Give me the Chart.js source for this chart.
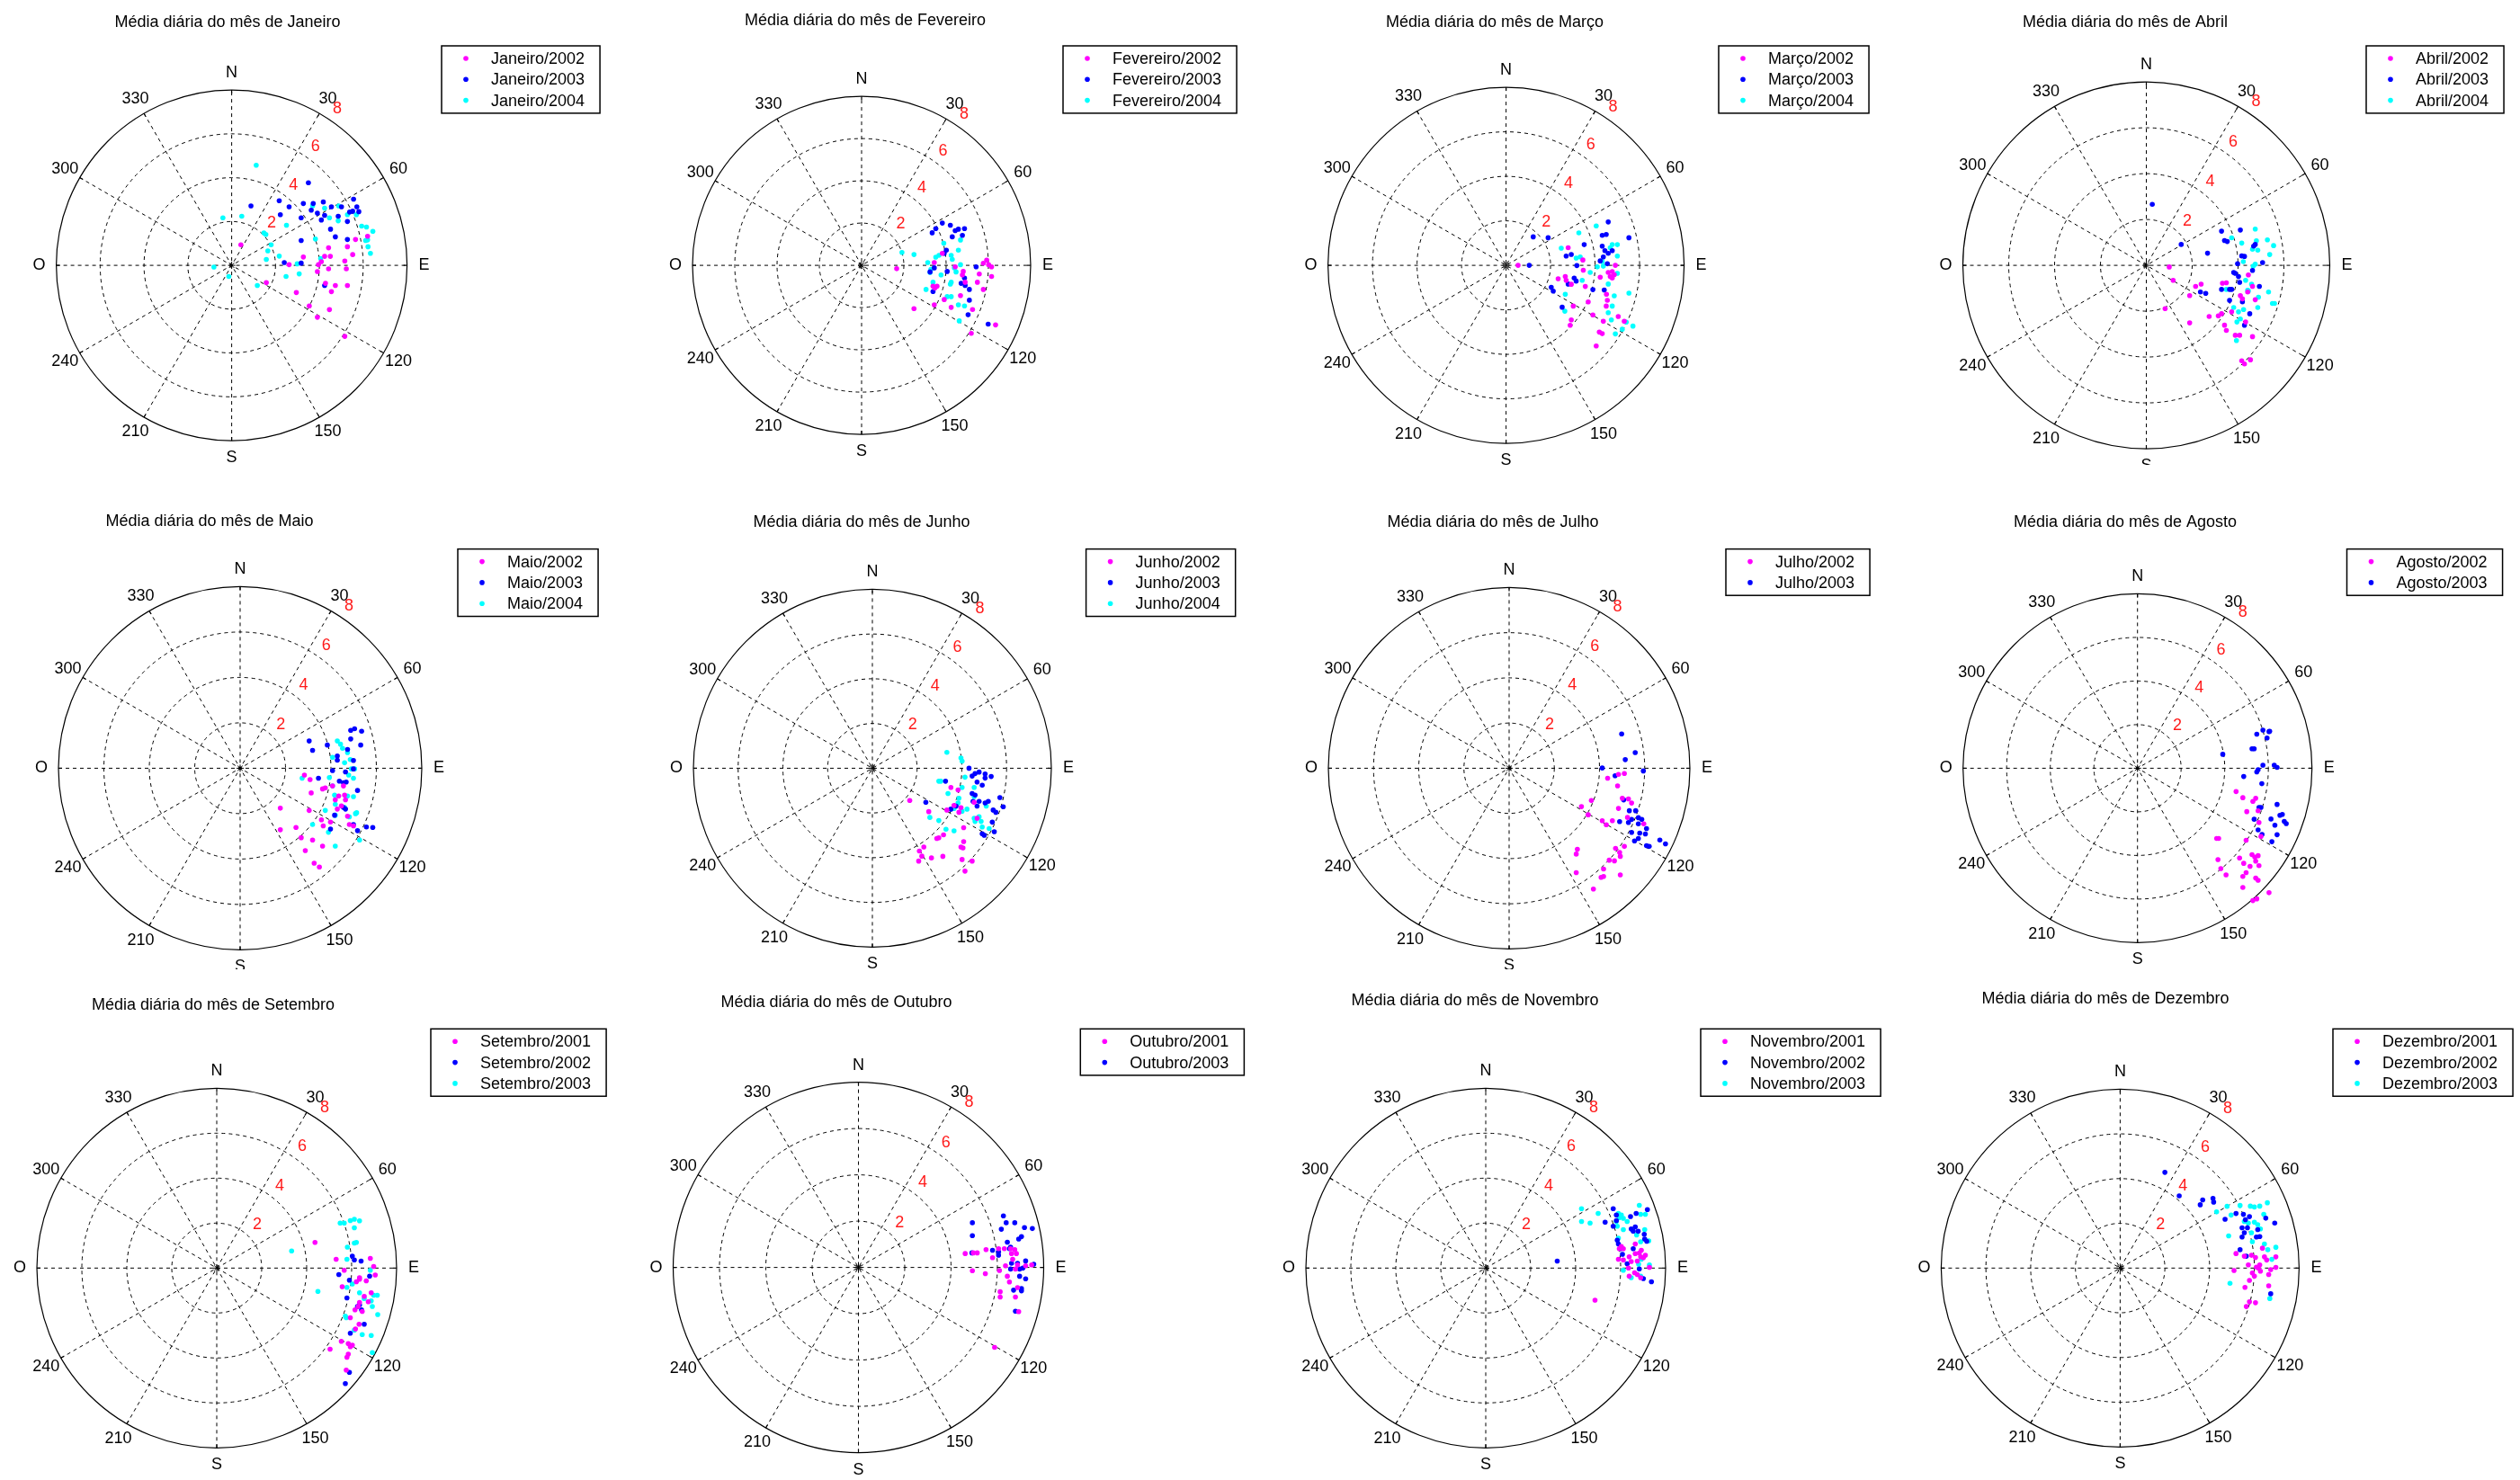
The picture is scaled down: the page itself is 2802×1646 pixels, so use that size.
<!DOCTYPE html>
<html>
<head>
<meta charset="utf-8">
<script src="https://cdn.jsdelivr.net/npm/chart.js@4"></script>
<style>
  body { margin: 0; background: #fff; width: 2802px; height: 1646px; overflow: hidden; position: relative; }
  canvas { position: absolute; }
</style>
</head>
<body>
<script>
// daily mean wind, [east, north] components (speed units)
const janeiro2002 = [[0.42,0.94],[2.62,0.03],[3.27,0.38],[4.24,0.41],[4.50,0.41],[4.09,0.17],[3.96,0.03],[3.91,-0.28],[4.42,-0.16],[4.42,0.80],[5.16,0.20],[5.28,0.85],[5.65,1.18],[5.52,0.49],[6.20,1.33],[5.23,-0.16],[4.28,-0.82],[4.73,-0.92],[5.28,-0.92],[4.55,-1.20],[2.95,-1.24],[1.58,-0.79],[3.54,-1.85],[4.46,-2.02],[3.91,-2.37],[5.16,-3.24]];
const janeiro2003 = [[0.88,2.71],[2.17,2.95],[2.62,2.67],[2.22,2.31],[3.50,3.77],[3.27,2.82],[3.72,2.82],[4.18,2.89],[3.63,2.52],[3.91,2.38],[4.09,2.07],[4.24,2.28],[3.17,2.17],[4.55,2.67],[5.01,2.67],[4.86,2.24],[5.56,3.02],[5.71,2.67],[5.38,2.43],[5.80,2.45],[5.52,2.47],[5.28,2.00],[4.51,1.65],[4.73,1.30],[5.28,1.18],[3.17,1.13],[2.40,0.13],[3.17,0.10],[4.24,-0.92]];
const janeiro2004 = [[1.12,4.57],[-0.40,2.17],[0.46,2.24],[2.50,1.83],[1.47,1.48],[1.56,1.41],[1.80,0.94],[1.65,0.66],[1.58,0.27],[2.17,0.42],[2.99,0.07],[3.08,-0.39],[2.48,-0.51],[1.17,-0.92],[-0.81,-0.08],[-0.13,-0.51],[3.82,1.20],[4.06,0.31],[4.24,2.61],[4.46,2.17],[3.69,2.71],[4.88,2.71],[5.28,2.31],[4.86,2.03],[5.93,1.79],[6.15,1.75],[6.44,1.55],[6.20,1.16],[6.11,1.13],[6.22,0.85],[6.33,0.55],[5.69,2.31]];

const fevereiro2002 = [[1.66,-0.16],[2.48,-2.05],[3.44,0.13],[3.47,-1.07],[3.57,-0.99],[3.38,-0.99],[3.91,-1.62],[3.44,-1.87],[4.24,-1.99],[4.43,-0.07],[4.68,-1.43],[4.81,-0.29],[4.77,-0.45],[4.90,-0.80],[5.57,-0.41],[5.76,0.10],[5.92,0.25],[6.01,0.03],[6.15,-0.07],[6.15,-0.53],[5.76,-1.14],[5.48,-0.80],[5.25,-2.09],[5.19,-3.22],[6.34,-2.82],[3.82,0.57]];
const fevereiro2003 = [[3.34,1.54],[3.51,1.74],[3.82,2.00],[4.20,1.90],[4.29,1.35],[4.43,1.64],[4.58,1.71],[4.87,1.74],[4.77,1.42],[4.01,0.72],[3.91,0.57],[3.44,-0.12],[3.24,-0.31],[4.05,-0.29],[4.87,-0.60],[4.71,-0.85],[4.90,-0.95],[5.10,-1.14],[5.10,-1.65],[5.04,-2.34],[5.42,-0.07],[5.99,-2.78],[3.38,-1.24]];
const fevereiro2004 = [[1.91,0.61],[2.48,0.51],[3.13,0.13],[3.28,-0.19],[3.24,-0.34],[3.51,0.39],[3.66,0.47],[3.76,-0.45],[3.89,1.05],[4.24,0.47],[4.29,0.28],[4.58,0.72],[4.68,1.20],[4.68,0.03],[4.47,-0.31],[4.24,-0.80],[4.20,-0.89],[3.05,-1.14],[3.38,-0.80],[4.05,-1.48],[4.24,-1.48],[4.58,-1.87],[4.87,-1.92],[4.62,-2.63],[4.39,-0.12]];

const marco2002 = [[0.54,0],[2.34,-0.60],[2.66,-0.50],[2.70,-0.67],[2.79,0.79],[2.93,-0.85],[3.45,0.24],[3.47,-0.22],[3.56,-0.95],[3.69,-1.64],[3.02,-1.83],[2.93,-2.45],[2.88,-2.69],[3.90,-2.23],[4.37,-2.51],[4.19,-3.00],[4.32,-3.07],[4.05,-3.62],[4.77,-0.57],[4.68,-0.50],[4.77,-0.28],[4.91,0],[4.86,-0.42],[4.51,-1.30],[4.55,-1.57],[4.50,-1.83],[5.04,-2.30],[5.31,-2.51],[4.23,-0.53],[4.59,-0.32]];
const marco2003 = [[1.22,1.28],[1.89,1.24],[1.04,0],[2.70,0.42],[2.93,0.49],[3.18,-0.01],[3.51,0.93],[3.06,-0.57],[3.15,-0.71],[2.79,-0.84],[2.03,-0.99],[2.12,-1.16],[2.52,-1.88],[3.90,-1.09],[4.41,-1.11],[4.59,1.95],[4.32,1.35],[4.50,1.39],[4.32,0.86],[4.44,0.66],[4.59,0.54],[4.77,0.66],[4.37,0.38],[4.55,0.07],[5.52,1.24],[4.23,0.20]];
const marco2004 = [[2.48,0.77],[3.27,1.46],[3.15,0.33],[4.05,1.77],[4.77,0.93],[5.00,0.93],[4.68,0.79],[5.00,0.42],[4.32,0.17],[4.37,-0.04],[4.10,-0.07],[3.78,-0.32],[3.42,-0.67],[5.00,-0.36],[4.59,-0.84],[4.77,-1.83],[4.86,-1.37],[4.59,-2.13],[4.73,-2.45],[4.91,-3.08],[5.22,-2.87],[5.40,-2.55],[5.70,-2.73],[5.52,-1.25],[2.66,-1.30],[2.64,-2.06],[3.33,0.38]];

const abril2002 = [[1.00,-0.07],[1.17,-0.65],[0.82,-1.89],[1.89,-1.32],[1.89,-2.51],[2.15,-0.92],[2.39,-0.82],[2.74,-2.23],[3.14,-2.20],[3.28,-2.11],[3.41,-2.61],[3.49,-2.84],[3.32,-0.78],[3.49,-0.76],[3.72,-2.03],[3.88,-3.05],[4.07,-3.05],[4.63,-3.11],[4.16,-4.16],[4.28,-4.30],[4.54,-4.12],[4.10,-1.32],[4.19,-1.46],[4.42,-1.16],[4.75,-1.50],[4.33,-2.47],[4.45,-0.42],[4.63,-0.92]];
const abril2003 = [[0.26,2.66],[1.52,0.91],[2.67,0.53],[3.28,1.49],[3.41,1.08],[3.53,1.04],[4.10,1.54],[4.16,0.41],[4.28,0.39],[3.98,0.07],[3.81,-0.31],[3.88,-0.35],[4.02,-0.49],[4.63,-0.22],[4.68,0.84],[4.75,0.91],[5.07,0.12],[3.63,-1.05],[3.72,-1.05],[4.07,-0.74],[3.28,-1.05],[2.36,-1.16],[2.59,-1.22],[3.63,-1.53],[4.19,-1.59],[4.51,-2.11],[4.28,-2.61],[4.93,-0.92]];
const abril2004 = [[3.72,1.20],[4.16,0.97],[4.75,1.58],[4.80,1.07],[4.63,0.70],[4.86,0.66],[5.28,1.11],[5.55,0.86],[5.38,0.47],[4.66,-0.04],[4.75,0.05],[4.23,0.16],[4.33,-0.65],[4.59,-0.82],[4.45,-1.12],[4.89,-1.39],[5.33,-1.16],[5.50,-1.66],[5.59,-1.66],[4.86,-1.84],[4.24,-1.93],[4.02,-2.03],[3.81,-1.84],[3.95,-2.47],[4.10,-2.34],[3.93,-3.28],[3.49,-1.05],[4.42,-1.09]];

const maio2002 = [[2.83,-0.30],[3.08,-0.50],[1.77,-1.76],[1.77,-2.71],[2.46,-2.61],[2.69,-3.06],[2.87,-3.63],[3.19,-3.16],[3.26,-4.18],[3.49,-4.35],[3.13,-1.09],[3.04,-1.86],[3.58,-2.27],[3.66,-2.54],[3.63,-3.43],[3.75,-0.87],[3.63,-0.91],[3.98,-2.37],[4.19,-1.39],[4.28,-1.80],[4.46,-1.66],[4.64,-1.39],[4.73,-2.11],[4.81,-2.48],[4.99,-2.54],[4.07,-0.78],[4.55,-0.78],[4.60,-1.18],[4.34,-1.22]];
const maio2003 = [[3.04,1.20],[3.19,0.79],[3.45,-0.44],[3.84,1.02],[4.28,0.54],[4.28,0.35],[4.07,-0.10],[4.37,-0.57],[4.55,-0.64],[4.67,-0.61],[4.99,0.34],[4.64,-0.16],[4.73,0.83],[4.87,1.29],[4.87,1.67],[5.04,1.74],[5.35,1.63],[5.31,1.02],[4.99,-0.03],[5.17,-0.98],[4.64,-1.80],[4.16,-2.07],[3.98,-2.68],[4.99,-2.48],[5.17,-2.75],[5.56,-2.59],[5.84,-2.61],[4.55,-1.73]];
const maio2004 = [[2.73,-0.44],[3.93,-0.41],[4.07,0.48],[4.07,-0.78],[4.16,-1.18],[4.28,1.20],[4.42,1.06],[4.51,0.88],[4.73,0.69],[4.85,0.38],[4.60,0.24],[4.78,-0.30],[4.99,-0.44],[5.04,-0.03],[4.90,-0.03],[4.73,-1.22],[4.99,-1.25],[4.60,-1.73],[4.19,-1.59],[3.75,-1.86],[3.19,-2.48],[3.89,-2.82],[4.19,-2.07],[4.81,-2.14],[5.08,-2.00],[5.13,-1.96],[5.26,-3.16],[4.19,-3.43]];

const junho2002 = [[1.67,-1.44],[2.52,-1.94],[2.30,-3.52],[2.10,-3.70],[2.21,-3.93],[2.07,-4.15],[2.64,-4.01],[3.15,-3.94],[2.88,-3.14],[2.97,-3.11],[3.18,-2.98],[3.51,-0.86],[3.83,-0.97],[3.33,-1.87],[3.87,-1.97],[3.96,-1.76],[4.08,-2.66],[3.96,-3.52],[4.05,-3.56],[4.08,-3.28],[4.01,-4.08],[4.46,-4.15],[4.14,-4.60],[4.55,-1.52],[4.68,-2.24],[3.65,-1.66]];
const junho2003 = [[2.39,-1.52],[3.27,-0.58],[3.51,-1.83],[3.74,-1.69],[4.32,0],[4.46,-0.35],[4.59,-0.24],[4.77,-0.17],[5.04,-0.26],[5.31,-0.37],[5.04,-0.44],[4.91,-0.76],[4.68,-0.62],[4.46,-1.13],[4.59,-1.20],[4.50,-1.48],[4.77,-1.48],[5.04,-1.55],[5.18,-1.48],[5.40,-1.87],[5.52,-1.97],[5.85,-1.72],[5.70,-1.31],[5.36,-2.41],[4.91,-2.93],[5.00,-3.00],[5.45,-2.84],[4.68,-1.69]];
const junho2004 = [[3.33,0.71],[3.96,0.46],[4.01,0.32],[4.14,-0.40],[2.97,-0.58],[3.06,-0.58],[3.38,-1.13],[4.01,-0.86],[4.55,-0.86],[4.55,-1.27],[3.87,-1.34],[3.83,-1.55],[3.72,-1.69],[3.65,-1.80],[4.01,-1.92],[4.23,-1.83],[4.55,-2.24],[4.77,-2.17],[4.86,-2.38],[4.59,-2.38],[4.91,-2.63],[5.22,-2.70],[3.65,-2.80],[3.29,-2.73],[2.97,-2.34],[2.57,-2.20],[5.09,-1.69]];

const julho2002 = [[4.36,-0.44],[4.84,-0.27],[5.10,-0.23],[4.80,-0.78],[5.01,-1.33],[5.28,-1.36],[5.42,-1.54],[4.84,-1.78],[5.24,-2.18],[3.20,-1.70],[3.64,-1.43],[3.50,-2.06],[4.12,-2.32],[4.30,-2.50],[4.57,-2.32],[5.96,-2.46],[4.71,-3.55],[4.89,-3.73],[5.10,-3.46],[4.92,-3.90],[4.43,-4.07],[4.66,-4.10],[4.18,-4.46],[3.02,-3.59],[2.97,-3.80],[2.97,-4.62],[4.07,-4.83],[4.18,-4.79],[4.92,-4.72],[3.73,-5.35]];
const julho2003 = [[4.98,1.52],[5.58,0.69],[5.14,0.38],[4.12,0.01],[5.94,-0.12],[4.69,-0.33],[5.07,-1.40],[5.32,-1.88],[5.60,-1.88],[5.72,-2.19],[5.87,-2.26],[4.89,-2.36],[5.42,-2.26],[5.72,-2.46],[5.42,-2.84],[5.78,-2.87],[5.72,-3.11],[6.03,-2.91],[6.08,-2.67],[5.55,-3.22],[6.08,-3.43],[6.20,-3.46],[6.67,-3.18],[6.92,-3.35],[5.28,-2.40]];

const agosto2002 = [[4.52,-1.07],[4.83,-1.35],[5.29,-1.52],[5.42,-1.38],[5.01,-1.99],[5.53,-1.95],[5.57,-2.49],[5.66,-3.13],[4.98,-3.30],[3.63,-3.22],[3.72,-3.22],[3.69,-4.19],[3.82,-4.60],[4.06,-4.89],[4.68,-4.12],[4.87,-4.36],[5.16,-4.50],[5.25,-3.96],[5.38,-4.08],[5.53,-4.01],[5.42,-4.26],[5.57,-4.47],[4.83,-4.96],[4.98,-4.79],[5.42,-5.04],[5.53,-5.14],[4.83,-5.47],[5.29,-6.07],[5.47,-5.99],[6.03,-5.71]];
const agosto2003 = [[3.91,0.64],[5.47,1.56],[5.75,1.75],[6.03,1.68],[5.94,1.39],[6.06,1.70],[5.25,0.89],[5.35,0.89],[5.75,0.14],[6.27,0.14],[6.40,0.04],[5.53,-0.07],[5.47,-0.17],[4.87,-0.38],[5.70,-0.71],[6.40,-1.66],[5.57,-1.80],[5.66,-1.80],[5.35,-2.34],[6.12,-2.33],[6.53,-2.16],[6.64,-2.12],[6.73,-2.44],[6.82,-2.54],[6.30,-2.61],[5.53,-2.83],[5.71,-3.04],[6.40,-3.05],[6.16,-3.37]];

const setembro2001 = [[4.37,1.14],[5.31,0.39],[5.67,-0.10],[5.58,-0.83],[6.21,-0.61],[6.35,-0.43],[6.35,-0.50],[6.65,-0.57],[6.83,0.43],[6.98,0.07],[7.05,-0.31],[6.87,-1.10],[6.56,-1.26],[6.74,-1.50],[6.35,-1.53],[6.29,-1.71],[6.15,-1.86],[5.94,-2.21],[6.17,-2.71],[5.54,-3.26],[5.04,-3.61],[5.85,-3.36],[5.94,-3.50],[6.03,-3.43],[5.85,-3.83],[5.79,-3.97],[5.76,-4.54],[6.33,-2.50],[6.47,-1.93]];
const setembro2002 = [[6.03,0.53],[6.12,0.36],[6.42,0.31],[5.43,-0.29],[5.90,-0.54],[6.80,-0.36],[5.79,-1.33],[6.35,-1.64],[6.26,-1.71],[6.56,-2.50],[5.94,-2.90],[5.90,-4.64],[5.72,-5.14],[6.44,-1.86]];
const setembro2003 = [[3.33,0.76],[4.50,-1.04],[5.49,2.00],[5.67,2.00],[5.94,2.11],[6.12,2.17],[6.35,2.10],[6.12,1.79],[6.12,1.11],[6.21,1.14],[5.81,0.93],[5.79,0.39],[6.03,-0.71],[5.79,-0.86],[6.35,-1.10],[6.83,-0.10],[6.98,-1.21],[7.14,-1.21],[6.87,-1.46],[6.92,-1.71],[7.16,-2.07],[5.72,-2.14],[6.12,-2.76],[6.47,-2.96],[6.87,-3.00],[6.92,-3.76],[6.56,-1.36],[5.76,-2.21]];

const outubro2001 = [[4.61,0.60],[4.96,0.63],[5.13,0.63],[5.51,0.77],[5.79,0.42],[6.05,0.81],[6.30,0.81],[6.57,0.81],[6.75,0.77],[6.82,0.60],[6.66,0.35],[6.35,0.07],[6.78,-0.07],[6.87,0.11],[7.22,0.07],[7.48,0.11],[4.92,-0.14],[5.48,-0.27],[6.09,-0.13],[6.43,-0.38],[6.52,-0.63],[6.87,-0.87],[6.12,-1.05],[6.12,-1.28],[6.78,-1.28],[6.92,-1.91],[5.88,-3.45],[6.61,0.60]];
const outubro2003 = [[4.92,1.93],[4.92,1.37],[4.90,0.63],[5.79,0.74],[6.05,0.67],[6.05,0.53],[6.17,1.65],[6.26,2.23],[6.38,1.93],[6.75,1.93],[6.43,1.09],[6.57,0.88],[6.92,1.23],[7.04,1.33],[7.17,1.72],[7.51,1.68],[6.61,0.18],[6.87,0.18],[7.22,0.28],[7.57,0.14],[6.96,-0.07],[7.10,-0.03],[6.57,-0.07],[6.96,-0.38],[7.22,-0.49],[6.70,-0.98],[7.04,-0.91],[7.04,-1.01],[6.78,-1.89],[6.52,0.81]];

const novembro2001 = [[5.90,0.39],[6.12,0.36],[6.38,0.50],[6.65,0.64],[6.74,0.31],[6.89,0.50],[7.01,0.46],[7.10,0.57],[6.92,0.79],[6.65,1.07],[6.12,0.86],[6.03,0.96],[6.35,0],[6.62,-0.21],[6.74,-0.29],[6.38,-0.36],[6.89,-0.43],[7.28,0.03],[4.86,-1.43],[6.83,0.67],[6.47,0.29],[5.94,0.86]];
const novembro2002 = [[3.18,0.31],[5.31,2.04],[5.67,2.64],[5.81,2.11],[5.67,1.86],[6.44,2.29],[6.69,2.43],[6.47,1.74],[6.56,1.64],[6.78,1.64],[7.05,1.50],[7.19,2.60],[7.07,1.29],[7.16,1.19],[5.85,1.24],[5.90,1.07],[5.99,0.86],[6.56,0.86],[6.08,0.61],[6.29,0.19],[6.83,-0.04],[7.01,-0.47],[7.37,-0.61],[5.81,2.36],[6.65,1.83]];
const novembro2003 = [[4.26,2.64],[4.26,2.07],[4.64,2.00],[5.00,2.43],[5.90,2.43],[6.03,2.36],[6.12,2.21],[5.81,2.07],[6.29,2.07],[6.83,2.79],[6.89,2.39],[7.10,2.39],[7.07,1.71],[6.12,1.71],[6.71,1.47],[5.90,1.33],[6.89,1.17],[5.85,1.86],[6.12,-0.10],[6.80,0.17],[7.28,0.14],[6.47,-0.43],[6.89,-0.36],[6.92,0.39],[7.25,1.21],[5.94,2.24]];

const dezembro2001 = [[5.18,0.65],[5.09,-0.11],[5.55,0.53],[5.73,0.14],[5.87,0.57],[6.05,0.47],[6.24,0.14],[6.36,0.89],[6.45,0.50],[6.55,0.36],[6.96,0.50],[6.96,0.03],[6.73,-0.07],[6.64,-0.29],[6.27,-0.14],[6.18,0],[6.00,-0.36],[5.91,-0.22],[5.78,-0.55],[5.58,-0.86],[6.64,-0.79],[5.78,-1.51],[6.05,-1.55],[5.64,-1.72],[6.09,0.04]];
const dezembro2002 = [[2.00,4.28],[2.64,3.23],[3.58,2.83],[3.69,3.05],[4.15,3.12],[4.18,2.95],[4.69,2.18],[5.18,2.44],[5.51,2.40],[5.78,2.30],[5.60,2.16],[5.45,1.80],[5.69,1.80],[5.55,1.58],[6.15,1.72],[6.09,1.39],[6.24,1.41],[5.45,1.39],[6.51,2.23],[6.91,2.01],[5.36,0.82],[5.64,0.53],[6.73,-1.15]];
const dezembro2003 = [[4.31,2.51],[4.78,2.76],[4.96,2.37],[5.36,2.80],[5.82,2.77],[6.00,2.73],[6.24,2.77],[6.58,2.92],[6.42,2.40],[6.00,2.05],[6.15,1.94],[6.27,1.75],[5.87,1.58],[5.91,1.18],[6.45,1.08],[6.60,0.82],[6.96,0.93],[6.78,0.39],[4.85,1.44],[4.91,-0.68],[6.69,-1.36],[5.55,2.08],[5.73,2.01]];

const monthNames = ['Janeiro','Fevereiro','Março','Abril','Maio','Junho','Julho','Agosto','Setembro','Outubro','Novembro','Dezembro'];
const monthYears = [
  [2002,2003,2004],[2002,2003,2004],[2002,2003,2004],[2002,2003,2004],
  [2002,2003,2004],[2002,2003,2004],[2002,2003],[2002,2003],
  [2001,2002,2003],[2001,2003],[2001,2002,2003],[2001,2002,2003]
];
const monthSeries = [
  [janeiro2002, janeiro2003, janeiro2004],
  [fevereiro2002, fevereiro2003, fevereiro2004],
  [marco2002, marco2003, marco2004],
  [abril2002, abril2003, abril2004],
  [maio2002, maio2003, maio2004],
  [junho2002, junho2003, junho2004],
  [julho2002, julho2003],
  [agosto2002, agosto2003],
  [setembro2001, setembro2002, setembro2003],
  [outubro2001, outubro2003],
  [novembro2001, novembro2002, novembro2003],
  [dezembro2001, dezembro2002, dezembro2003]
];
const ringTicks = [2, 4, 6, 8];
const angleLabels = ['N','30','60','E','120','150','S','210','240','O','300','330'];

// look
const seriesColors = ['#ff00ff', '#0000ff', '#00ffff'];
const FONT = '18px "Liberation Sans", Arial, sans-serif';

// where each panel sits on the page
const panelLayout = [
  {cx: 257.6, cy: 295.1, r: 195, tx: 253, ty: 25, lx: 491, ly: 51, bottom: 540},
  {cx: 958.0, cy: 295.1, r: 188, tx: 962, ty: 23, lx: 1182, ly: 51, bottom: 540},
  {cx: 1674.6, cy: 295.1, r: 198, tx: 1662, ty: 25, lx: 1911, ly: 51, bottom: 540},
  {cx: 2386.5, cy: 295.1, r: 204, tx: 2363, ty: 25, lx: 2631, ly: 51, bottom: 517},
  {cx: 267.0, cy: 854.4, r: 202, tx: 233, ty: 580, lx: 509, ly: 610.6, bottom: 1078},
  {cx: 970.0, cy: 854.4, r: 199, tx: 958, ty: 581, lx: 1207.6, ly: 610.6, bottom: 1078},
  {cx: 1678.0, cy: 854.4, r: 201, tx: 1660, ty: 581, lx: 1919, ly: 610.6, bottom: 1078},
  {cx: 2376.7, cy: 854.4, r: 194, tx: 2363, ty: 581, lx: 2609.5, ly: 610.6, bottom: 1078},
  {cx: 241.0, cy: 1410.3, r: 200, tx: 237, ty: 1118, lx: 479, ly: 1144.3, bottom: 1646},
  {cx: 954.5, cy: 1409.6, r: 206, tx: 930, ty: 1115, lx: 1201.3, ly: 1144.3, bottom: 1646},
  {cx: 1652.0, cy: 1410.3, r: 200, tx: 1640, ty: 1113, lx: 1891, ly: 1144.3, bottom: 1646},
  {cx: 2357.4, cy: 1410.3, r: 199, tx: 2341, ty: 1111, lx: 2594, ly: 1144.3, bottom: 1646}
];

// compass-style polar grid, drawn from the chart's own x/y scales
const polarGrid = {
  id: 'polarGrid',
  beforeDatasetsDraw(chart) {
    const {ctx, scales: {x, y}} = chart;
    const cx = x.getPixelForValue(0), cy = y.getPixelForValue(0);
    const maxR = ringTicks[ringTicks.length - 1];
    const rx = x.getPixelForValue(maxR) - cx, ry = cy - y.getPixelForValue(maxR);
    ctx.save();
    ctx.strokeStyle = '#000';
    ctx.lineWidth = 1;
    ctx.setLineDash([4, 4]);
    for (let a = 0; a < 180; a += 30) {
      const t = a * Math.PI / 180;
      ctx.beginPath();
      ctx.moveTo(cx - Math.sin(t) * rx, cy + Math.cos(t) * ry);
      ctx.lineTo(cx + Math.sin(t) * rx, cy - Math.cos(t) * ry);
      ctx.stroke();
    }
    ringTicks.slice(0, -1).forEach(v => {
      ctx.beginPath();
      ctx.ellipse(cx, cy, x.getPixelForValue(v) - cx, cy - y.getPixelForValue(v), 0, 0, Math.PI * 2);
      ctx.stroke();
    });
    ctx.setLineDash([]);
    ctx.lineWidth = 1.2;
    ctx.beginPath();
    ctx.ellipse(cx, cy, rx, ry, 0, 0, Math.PI * 2);
    ctx.stroke();
    // small ticks on the rim
    for (let a = 0; a < 360; a += 30) {
      const t = a * Math.PI / 180;
      ctx.beginPath();
      ctx.moveTo(cx + Math.sin(t) * (rx - 4), cy - Math.cos(t) * (ry - 4));
      ctx.lineTo(cx + Math.sin(t) * rx, cy - Math.cos(t) * ry);
      ctx.stroke();
    }
    // calm marker at the origin
    ctx.lineWidth = 1;
    for (let a = 0; a < 180; a += 45) {
      const t = a * Math.PI / 180;
      ctx.beginPath();
      ctx.moveTo(cx - Math.cos(t) * 4, cy - Math.sin(t) * 4);
      ctx.lineTo(cx + Math.cos(t) * 4, cy + Math.sin(t) * 4);
      ctx.stroke();
    }
    // direction labels
    ctx.font = FONT;
    ctx.fillStyle = '#000';
    ctx.textAlign = 'center';
    ctx.textBaseline = 'middle';
    angleLabels.forEach((lab, i) => {
      const t = i * 30 * Math.PI / 180;
      ctx.fillText(lab, cx + Math.sin(t) * (rx + 19), cy - Math.cos(t) * (ry + 19));
    });
    // speed labels along the 30 degree spoke
    ctx.fillStyle = '#ff1a1a';
    const t30 = 30 * Math.PI / 180;
    ringTicks.forEach(v => {
      const px = x.getPixelForValue(Math.sin(t30) * v), py = y.getPixelForValue(Math.cos(t30) * v);
      ctx.fillText(String(v), px + 20, py - 5);
    });
    ctx.restore();
  },
  afterDraw(chart, args, opts) {
    const {ctx} = chart;
    ctx.save();
    ctx.font = FONT;
    ctx.fillStyle = '#000';
    ctx.textAlign = 'center';
    ctx.textBaseline = 'middle';
    ctx.fillText(opts.title, opts.tx, opts.ty);
    // legend box
    const sets = chart.data.datasets;
    const tw = Math.max(...sets.map(d => ctx.measureText(d.label).width));
    const rowH = 23.3;
    const bw = 55 + tw + 17, bh = sets.length * rowH + 5;
    ctx.fillStyle = '#fff';
    ctx.fillRect(opts.lx, opts.ly, bw, bh);
    ctx.strokeStyle = '#000';
    ctx.lineWidth = 1.5;
    ctx.strokeRect(opts.lx, opts.ly, bw, bh);
    ctx.textAlign = 'left';
    sets.forEach((d, i) => {
      const yy = opts.ly + 14 + i * rowH;
      ctx.fillStyle = d.backgroundColor;
      ctx.beginPath();
      ctx.arc(opts.lx + 27, yy, 2.8, 0, Math.PI * 2);
      ctx.fill();
      ctx.fillStyle = '#000';
      ctx.fillText(d.label, opts.lx + 55, yy + 1);
    });
    ctx.restore();
  }
};

monthNames.forEach((month, m) => {
  const L = panelLayout[m];
  const col = m % 4, row = Math.floor(m / 4);
  const x0 = col * 700, y0 = row * 540;
  const W = col === 3 ? 702 : 720;
  const H = L.bottom - y0;
  const canvas = document.createElement('canvas');
  canvas.width = W;
  canvas.height = H;
  canvas.style.left = x0 + 'px';
  canvas.style.top = y0 + 'px';
  canvas.style.width = W + 'px';
  canvas.style.height = H + 'px';
  document.body.appendChild(canvas);

  const datasets = monthSeries[m].map((pts, i) => ({
    label: month + '/' + monthYears[m][i],
    data: pts.map(([e, n]) => ({x: e, y: n})),
    backgroundColor: seriesColors[i],
    borderColor: seriesColors[i],
    borderWidth: 0,
    pointRadius: 2.8,
    pointHoverRadius: 2.8
  }));

  new Chart(canvas, {
    type: 'scatter',
    data: {datasets},
    options: {
      responsive: false,
      animation: false,
      devicePixelRatio: 1,
      events: [],
      layout: {
        padding: {
          left: L.cx - L.r - x0,
          top: L.cy - L.r - y0,
          right: W - (L.cx + L.r - x0),
          bottom: H - (L.cy + L.r - y0)
        }
      },
      scales: {
        x: {type: 'linear', min: -8, max: 8, display: false},
        y: {type: 'linear', min: -8, max: 8, display: false}
      },
      plugins: {
        legend: {display: false},
        title: {display: false},
        tooltip: {enabled: false},
        polarGrid: {
          title: 'Média diária do mês de ' + month,
          tx: L.tx - x0, ty: L.ty - y0,
          lx: L.lx - x0, ly: L.ly - y0
        }
      }
    },
    plugins: [polarGrid]
  });
});
</script>
</body>
</html>
